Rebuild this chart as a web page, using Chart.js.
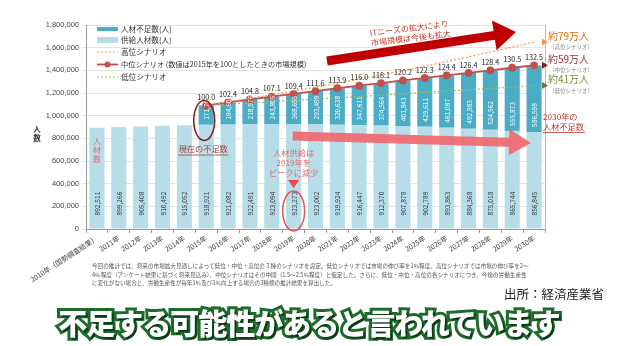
<!DOCTYPE html>
<html>
<head>
<meta charset="utf-8">
<script src="https://cdn.jsdelivr.net/npm/chart.js@4.4.0/dist/chart.umd.min.js"></script>
<style>
  body { margin: 0; background: #fff; font-family: "Noto Sans CJK JP", "Noto Sans", sans-serif; }
  #wrap { position: relative; width: 618px; height: 346px; overflow: hidden; }
  #note { position: absolute; left: 92px; top: 262px; width: 440px; font-size: 5.6px; line-height: 8.6px; color: #555; white-space: nowrap; }
  #src { position: absolute; left: 504px; top: 284px; font-size: 12.5px; color: #222; }
  #cap { position: absolute; left: 0; width: 618px; top: 301px; text-align: center; font-size: 29px; font-weight: 900; letter-spacing: -1px;
         color: #fff; -webkit-text-stroke: 6px #1d6b2c; paint-order: stroke fill; text-shadow: 2px 2px 0 #0f3d18; }
</style>
</head>
<body>
<div id="wrap">
  <canvas id="chart" width="618" height="346"></canvas>
  <div id="note">今回の推計では、将来の市場拡大見通しによって低位・中位・高位の３種のシナリオを設定。低位シナリオでは市場の伸び率を1％程度、高位シナリオでは市場の伸び率を2～<br>4％程度（アンケート結果に基づく将来見込み）、中位シナリオはその中間（1.5～2.5％程度）と仮定した。さらに、低位・中位・高位の各シナリオにつき、今後の労働生産性<br>に変化がない場合と、労働生産性が毎年1％及び3％向上する場合の3種類の推計結果を算出した。</div>
  <div id="src">出所：経済産業省</div>
  <div id="cap">不足する可能性があると言われています</div>
</div>
<script>
// categories
var years = ["2010年（国勢調査結果）", "2011年", "2012年", "2013年", "2014年", "2015年", "2016年", "2017年", "2018年", "2019年",
             "2020年", "2021年", "2022年", "2023年", "2024年", "2025年", "2026年", "2027年", "2028年", "2029年", "2030年"];

// 供給人材数
var supply = [892511, 899266, 905408, 910492, 915052, 918921, 921082, 922491, 923094, 923273,
              923002, 919924, 916447, 912370, 907878, 902789, 893863, 884368, 875018, 865744, 856845];

// 人材不足数
var shortage = [null, null, null, null, null, 171700, 194608, 218976, 243805, 268655,
                293499, 320638, 347611, 374564, 401843, 429611, 461087, 492983, 524562, 555873, 586598];

// 市場規模 (2015 = 100)
var midIndex = [null, null, null, null, null, 100.0, 102.4, 104.8, 107.1, 109.4,
                111.6, 113.9, 116.0, 118.1, 120.2, 122.3, 124.4, 126.4, 128.4, 130.5, 132.5];
var highIndex = [null, null, null, null, null, 100.0, 102.8, 105.7, 108.6, 111.7,
                 114.8, 118.0, 121.3, 124.7, 128.2, 131.8, 135.5, 139.3, 143.2, 147.2, 151.3];
var lowIndex = [null, null, null, null, null, 100.0, 101.0, 102.0, 103.0, 104.1,
                105.1, 106.2, 107.2, 108.3, 109.4, 110.5, 111.6, 112.7, 113.8, 114.9, 116.1];

var yTicks = [0, 200000, 400000, 600000, 800000, 1000000, 1200000, 1400000, 1600000, 1800000];

var FONT = '"Noto Sans CJK JP", "Noto Sans", sans-serif';
var TEAL = "#4bacc6", LIGHT = "#b7dee8", RED = "#c0504d", ORANGE = "#f79646", GREEN = "#9bbb59";

function fmt(v) { return v.toLocaleString("en-US"); }

function arrow(ctx, x0, y0, x1, y1, thick, headLen, headHalf, color)
{
    var ang = Math.atan2(y1 - y0, x1 - x0);
    var len = Math.sqrt((x1 - x0) * (x1 - x0) + (y1 - y0) * (y1 - y0));
    ctx.save();
    ctx.translate(x0, y0);
    ctx.rotate(ang);
    ctx.fillStyle = color;
    ctx.beginPath();
    ctx.moveTo(0, -thick / 2);
    ctx.lineTo(len - headLen, -thick / 2);
    ctx.lineTo(len - headLen, -headHalf);
    ctx.lineTo(len, 0);
    ctx.lineTo(len - headLen, headHalf);
    ctx.lineTo(len - headLen, thick / 2);
    ctx.lineTo(0, thick / 2);
    ctx.closePath();
    ctx.fill();
    ctx.restore();
}

function text(ctx, s, x, y, size, color, align, weight)
{
    ctx.font = (weight || "normal") + " " + size + "px " + FONT;
    ctx.fillStyle = color;
    ctx.textAlign = align || "left";
    ctx.textBaseline = "middle";
    ctx.fillText(s, x, y);
}

var deco = {
    id: "deco",
    afterDatasetsDraw: function(chart)
    {
        var ctx = chart.ctx;
        var ca = chart.chartArea;
        var xs = chart.scales.x;
        var supMeta = chart.getDatasetMeta(0);
        var shMeta = chart.getDatasetMeta(1);
        var highMeta = chart.getDatasetMeta(2);
        var midMeta = chart.getDatasetMeta(3);
        var lowMeta = chart.getDatasetMeta(4);

        // right border line
        ctx.save();
        ctx.strokeStyle = "#bbb";
        ctx.lineWidth = 1;
        ctx.beginPath();
        ctx.moveTo(ca.right + 0.5, ca.top);
        ctx.lineTo(ca.right + 0.5, ca.bottom);
        ctx.stroke();
        ctx.restore();

        // pink arrow across shortage bars
        arrow(ctx, xs.getPixelForValue(9) - 1, 136, ca.right - 14, 143, 9, 22, 13, "rgba(240,104,112,0.92)");

        // value labels in bars
        for (var i = 0; i < years.length; i++)
        {
            var el = supMeta.data[i];
            ctx.save();
            ctx.translate(el.x, el.base - 13);
            ctx.rotate(-Math.PI / 2);
            text(ctx, fmt(supply[i]), 0, 0.5, 6.6, "#333", "left");
            ctx.restore();
            if (shortage[i] !== null)
            {
                var e2 = shMeta.data[i];
                ctx.save();
                ctx.translate(e2.x, e2.base - 5);
                ctx.rotate(-Math.PI / 2);
                text(ctx, fmt(shortage[i]), 0, 0.5, 6.6, "#fff", "left");
                ctx.restore();
            }
            if (midIndex[i] !== null)
            {
                var p = midMeta.data[i];
                text(ctx, midIndex[i].toFixed(1), p.x, p.y - 8, 7.2, "#222", "center");
            }
        }

        // big red arrow
        arrow(ctx, 327, 61, 516, 32, 9, 22, 15, "#c00000");
        ctx.save();
        ctx.translate(370, 33);
        ctx.rotate(-0.12);
        text(ctx, "ITニーズの拡大により", 0, 0, 8, "#c0392b", "left");
        text(ctx, "市場規模は今後も拡大", 0, 10, 8, "#c0392b", "left");
        ctx.restore();

        // ellipse around current shortage
        var p15 = midMeta.data[5];
        ctx.save();
        ctx.strokeStyle = "#8b1a1a";
        ctx.lineWidth = 1.5;
        ctx.beginPath();
        ctx.ellipse(p15.x - 2, p15.y + 15, 10.5, 20, 0, 0, Math.PI * 2);
        ctx.stroke();
        ctx.restore();
        text(ctx, "現在の不足数", p15.x - 3, 149, 8.2, "#a0413c", "center");
        ctx.save();
        ctx.strokeStyle = "#a0413c";
        ctx.lineWidth = 0.8;
        ctx.beginPath();
        ctx.moveTo(p15.x - 28, 155);
        ctx.lineTo(p15.x + 22, 155);
        ctx.stroke();
        ctx.restore();

        // 人材数 (vertical)
        var b0 = supMeta.data[0];
        text(ctx, "人", b0.x, 141, 8, "#e07070", "center");
        text(ctx, "材", b0.x, 150, 8, "#e07070", "center");
        text(ctx, "数", b0.x, 159, 8, "#e07070", "center");

        // 2019 peak note
        var b19 = supMeta.data[9];
        text(ctx, "人材供給は", b19.x, 153, 8.2, "#e8676b", "center");
        text(ctx, "2019年を", b19.x, 163, 8.2, "#e8676b", "center");
        text(ctx, "ピークに減少", b19.x, 173, 8.2, "#e8676b", "center");
        ctx.save();
        ctx.fillStyle = "#e8474f";
        ctx.beginPath();
        ctx.moveTo(b19.x - 5.5, 180);
        ctx.lineTo(b19.x + 5.5, 180);
        ctx.lineTo(b19.x, 188);
        ctx.closePath();
        ctx.fill();
        ctx.strokeStyle = "#e05555";
        ctx.lineWidth = 1.5;
        ctx.beginPath();
        ctx.ellipse(b19.x, 211, 11, 20, 0, 0, Math.PI * 2);
        ctx.stroke();
        ctx.restore();

        // right side scenario labels
        var ends = [[highMeta, ORANGE, "#e36c0a", "約79万人", "（高位シナリオ）"],
                    [midMeta, "#8b1a1a", "#953735", "約59万人", "（中位シナリオ）"],
                    [lowMeta, "#5f7a2e", "#77933c", "約41万人", "（低位シナリオ）"]];
        for (var k = 0; k < ends.length; k++)
        {
            var last = ends[k][0].data[20];
            ctx.save();
            ctx.fillStyle = ends[k][1];
            ctx.beginPath();
            ctx.moveTo(ca.right - 3, last.y - 3.5);
            ctx.lineTo(ca.right + 3, last.y);
            ctx.lineTo(ca.right - 3, last.y + 3.5);
            ctx.closePath();
            ctx.fill();
            ctx.restore();
            text(ctx, ends[k][3], ca.right + 3, last.y - 6, 10, ends[k][2], "left");
            text(ctx, ends[k][4], ca.right + 4, last.y + 5, 5.5, "#888", "left");
        }
        text(ctx, "2030年の", ca.right - 2, 117, 8.2, "#c0392b", "left");
        text(ctx, "人材不足数", ca.right - 2, 127, 8.2, "#c0392b", "left");
        ctx.save();
        ctx.strokeStyle = "#c0392b";
        ctx.lineWidth = 0.8;
        ctx.beginPath();
        ctx.moveTo(ca.right - 2, 132.5);
        ctx.lineTo(ca.right + 40, 132.5);
        ctx.stroke();
        ctx.restore();

        // legend
        ctx.save();
        ctx.fillStyle = TEAL;
        ctx.fillRect(97, 27, 21, 4);
        ctx.fillStyle = LIGHT;
        ctx.fillRect(97, 37, 21, 6);
        ctx.lineWidth = 1.2;
        ctx.setLineDash([2, 2]);
        ctx.strokeStyle = ORANGE;
        ctx.beginPath(); ctx.moveTo(97, 52); ctx.lineTo(118, 52); ctx.stroke();
        ctx.strokeStyle = GREEN;
        ctx.beginPath(); ctx.moveTo(97, 77); ctx.lineTo(118, 77); ctx.stroke();
        ctx.setLineDash([]);
        ctx.strokeStyle = RED;
        ctx.lineWidth = 1.8;
        ctx.beginPath(); ctx.moveTo(97, 64.5); ctx.lineTo(118, 64.5); ctx.stroke();
        ctx.fillStyle = RED;
        ctx.beginPath(); ctx.arc(107.5, 64.5, 3, 0, Math.PI * 2); ctx.fill();
        ctx.restore();
        text(ctx, "人材不足数(人)", 121, 29, 7.6, "#333", "left");
        text(ctx, "供給人材数(人)", 121, 40, 7.6, "#333", "left");
        text(ctx, "高位シナリオ", 121, 52, 7.6, "#333", "left");
        text(ctx, "中位シナリオ (数値は2015年を100としたときの市場規模)", 121, 64.5, 7.2, "#333", "left");
        text(ctx, "低位シナリオ", 121, 77, 7.6, "#333", "left");

        // axis title
        text(ctx, "人", 37, 129, 7.5, "#333", "center", "bold");
        text(ctx, "数", 37, 138, 7.5, "#333", "center", "bold");
    }
};

var ctxc = document.getElementById("chart");
var chart = new Chart(ctxc, {
    type: "bar",
    data: {
        labels: years,
        datasets: [
            { label: "供給人材数（人）", data: supply, backgroundColor: LIGHT, order: 1,
              barPercentage: 0.69, categoryPercentage: 1.0 },
            { label: "人材不足数（人）", data: shortage, backgroundColor: TEAL, order: 1,
              barPercentage: 0.69, categoryPercentage: 1.0 },
            { type: "line", label: "高位シナリオ", data: highIndex, yAxisID: "y2", order: 0,
              borderColor: ORANGE, borderWidth: 1.2, borderDash: [2, 2], pointRadius: 0, fill: false },
            { type: "line", label: "中位シナリオ", data: midIndex, yAxisID: "y2", order: 0,
              borderColor: RED, borderWidth: 1.8, pointRadius: 3, pointBackgroundColor: RED, pointBorderColor: RED, fill: false },
            { type: "line", label: "低位シナリオ", data: lowIndex, yAxisID: "y2", order: 0,
              borderColor: GREEN, borderWidth: 1.2, borderDash: [2, 2], pointRadius: 0, fill: false }
        ]
    },
    options: {
        responsive: false,
        animation: false,
        layout: { padding: { top: 25, right: 73, left: 0, bottom: 0 } },
        plugins: { legend: { display: false }, tooltip: { enabled: false } },
        scales: {
            x: {
                stacked: true,
                grid: { drawOnChartArea: false, tickLength: 4, color: "#999" },
                border: { color: "#999" },
                ticks: { autoSkip: false, minRotation: 33, maxRotation: 33, color: "#444", padding: 1,
                         font: { size: 7, family: FONT } },
                afterFit: function(s) { s.height = 117; }
            },
            y: {
                stacked: true,
                min: yTicks[0],
                max: yTicks[yTicks.length - 1],
                afterBuildTicks: function(s) { s.ticks = yTicks.map(function(v) { return { value: v }; }); },
                ticks: { color: "#444", font: { size: 7.5, family: '"Liberation Sans", sans-serif' },
                         callback: function(v) { return fmt(v); } },
                grid: { color: "#e4e4e4", tickLength: 4 },
                border: { color: "#999" },
                afterFit: function(s) { s.width = 86; }
            },
            y2: { display: false, min: 0, max: 165.1 }
        }
    },
    plugins: [deco]
});
</script>
</body>
</html>
